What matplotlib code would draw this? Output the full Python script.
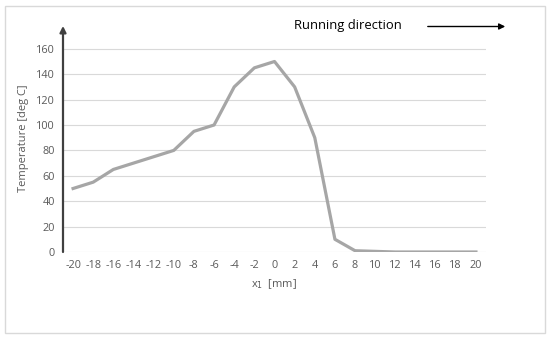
import matplotlib
matplotlib.use("Agg")
import matplotlib.pyplot as plt
from matplotlib.patches import Rectangle, FancyArrowPatch

# data
x_mm = [-20, -18, -16, -14, -12, -10, -8, -6, -4, -2, 0, 2, 4, 6, 8, 10, 12, 14, 16, 18, 20]
temp = [50, 55, 65, 70, 75, 80, 95, 100, 130, 145, 150, 130, 90, 10, 1, 0.5, 0, 0, 0, 0, 0]
y_ticks = [0, 20, 40, 60, 80, 100, 120, 140, 160]

plt.rcParams['font.family'] = ['Open Sans', 'DejaVu Sans']

fig = plt.figure(figsize=(5.5, 3.39), dpi=100)
ax = fig.add_axes([63 / 550, 1 - 252 / 339, 423 / 550, 228.6 / 339])

ax.plot(x_mm, temp, color='#a6a6a6', lw=2.3, solid_joinstyle='round', zorder=3)

ax.set_xlim(-21, 21)
ax.set_ylim(0, 180)
ax.set_xticks(x_mm)
ax.set_xticklabels([str(v) for v in x_mm])
ax.set_yticks(y_ticks)
for v in y_ticks:
    ax.axhline(v, color='#d9d9d9', lw=0.8, zorder=1)

for s in ax.spines.values():
    s.set_visible(False)
ax.tick_params(length=0, labelsize=7.8, labelcolor='#595959', pad=6)

# vertical axis with arrow
ax.annotate('', xy=(-21, 178), xytext=(-21, 0),
            arrowprops=dict(arrowstyle='-|>', color='#404040', lw=1.6,
                            mutation_scale=9, shrinkA=0, shrinkB=0),
            annotation_clip=False)

ax.set_xlabel(r'x$_1$  [mm]', fontsize=8, color='#595959', labelpad=4)
ax.set_ylabel('Temperature [deg C]', fontsize=8, color='#595959', labelpad=5)

# running direction note
fig.text(294 / 550, 1 - 26 / 339, 'Running direction', fontsize=9.4, color='black',
         va='center', ha='left')
fig.patches.append(FancyArrowPatch(
    (425 / 550, 1 - 26.5 / 339), (508 / 550, 1 - 26.5 / 339),
    transform=fig.transFigure, arrowstyle='-|>', mutation_scale=9,
    color='black', lw=1.0))

# outer frame
fig.patches.append(Rectangle((5 / 550, 1 - 333 / 339), 540 / 550, 327 / 339,
                             transform=fig.transFigure, fill=False,
                             edgecolor='#d9d9d9', lw=1))

fig.savefig('out.png', dpi=100)
